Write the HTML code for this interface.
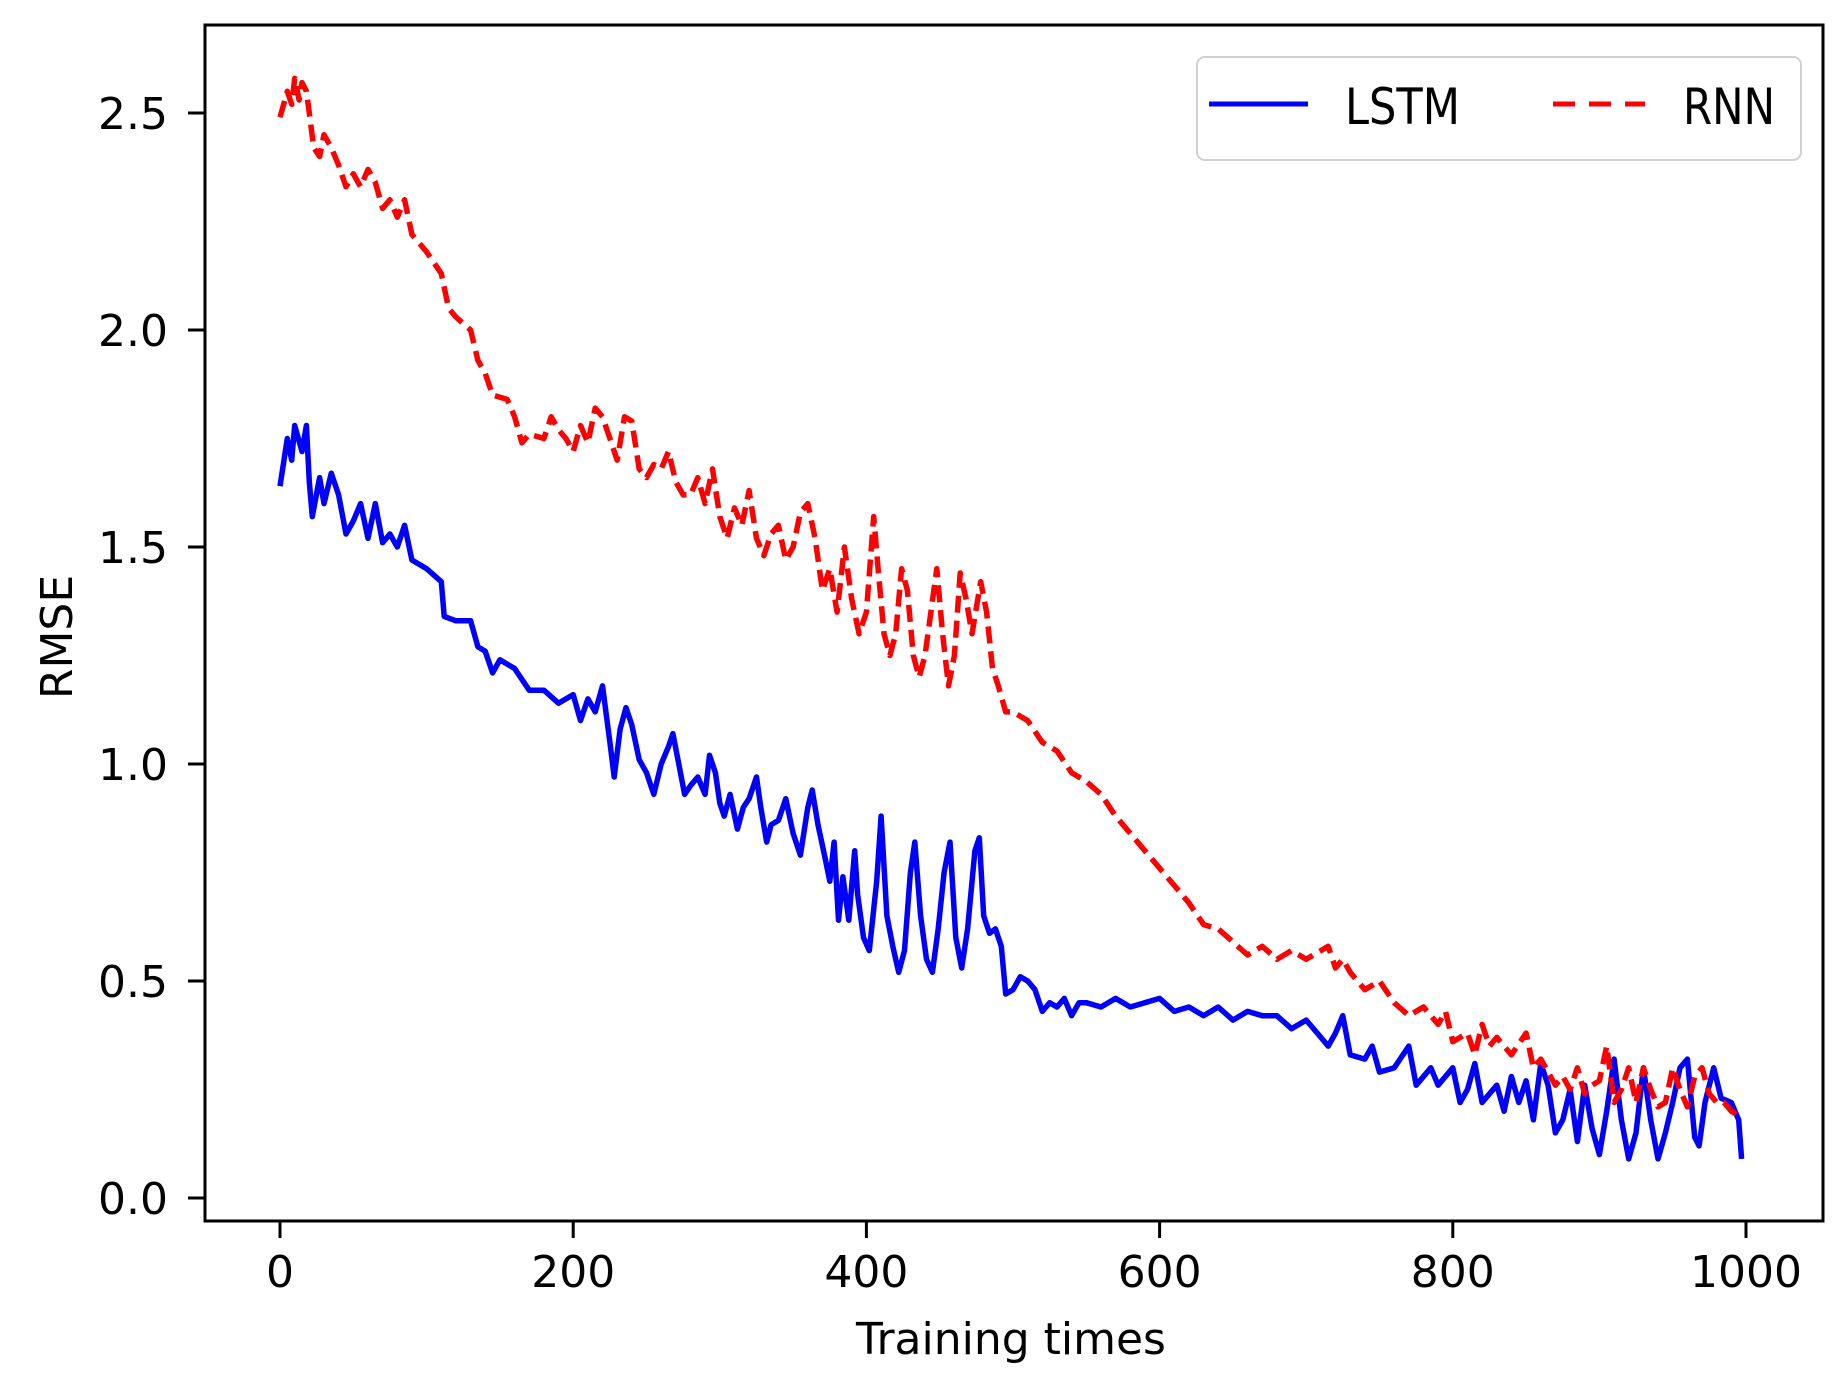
<!DOCTYPE html>
<html><head><meta charset="utf-8"><style>
body{margin:0;background:#fff}
svg{display:block;font-family:"DejaVu Sans","Liberation Sans",sans-serif}
</style></head><body>
<svg id="chart" width="1840" height="1392" viewBox="0 0 1840 1392" xmlns="http://www.w3.org/2000/svg">
<g id="plot"></g>
</svg>
<script>
const lstmX=[0,5,8,10,15,18,20,22,27,30,35,40,45,50,55,60,65,70,75,80,85,90,100,110,112,120,130,135,140,145,150,160,170,180,190,200,205,210,215,220,225,228,232,236,240,245,250,255,260,265,268,272,276,280,285,290,293,297,300,303,307,312,316,320,325,328,332,335,340,345,350,355,360,363,367,372,375,378,381,384,388,392,394,398,402,407,410,414,418,422,426,430,433,437,441,445,449,453,457,461,465,469,474,477,480,484,488,492,495,500,505,510,515,520,525,530,535,540,545,550,560,570,580,590,600,610,620,630,640,650,660,670,680,690,700,710,715,720,725,730,740,745,750,760,770,775,785,790,800,805,810,815,820,830,835,840,845,850,855,860,865,870,875,880,885,890,895,900,905,910,915,920,925,930,935,940,945,950,955,960,965,968,972,978,983,990,995,997];
const lstmY=[1.64,1.75,1.70,1.78,1.72,1.78,1.65,1.57,1.66,1.60,1.67,1.62,1.53,1.56,1.60,1.52,1.60,1.51,1.53,1.50,1.55,1.47,1.45,1.42,1.34,1.33,1.33,1.27,1.26,1.21,1.24,1.22,1.17,1.17,1.14,1.16,1.10,1.15,1.12,1.18,1.05,0.97,1.08,1.13,1.09,1.01,0.98,0.93,1.00,1.04,1.07,1.00,0.93,0.95,0.97,0.93,1.02,0.98,0.91,0.88,0.93,0.85,0.90,0.92,0.97,0.90,0.82,0.86,0.87,0.92,0.84,0.79,0.90,0.94,0.86,0.78,0.73,0.82,0.64,0.74,0.64,0.80,0.70,0.60,0.57,0.73,0.88,0.65,0.58,0.52,0.57,0.75,0.82,0.65,0.55,0.52,0.62,0.75,0.82,0.60,0.53,0.62,0.80,0.83,0.65,0.61,0.62,0.58,0.47,0.48,0.51,0.50,0.48,0.43,0.45,0.44,0.46,0.42,0.45,0.45,0.44,0.46,0.44,0.45,0.46,0.43,0.44,0.42,0.44,0.41,0.43,0.42,0.42,0.39,0.41,0.37,0.35,0.38,0.42,0.33,0.32,0.35,0.29,0.30,0.35,0.26,0.30,0.26,0.30,0.22,0.25,0.31,0.22,0.26,0.20,0.28,0.22,0.27,0.18,0.31,0.26,0.15,0.18,0.25,0.13,0.26,0.16,0.10,0.20,0.32,0.18,0.09,0.15,0.30,0.18,0.09,0.15,0.22,0.30,0.32,0.14,0.12,0.22,0.30,0.23,0.22,0.18,0.09];
const rnnX=[0,5,8,10,13,15,18,20,23,27,30,35,40,45,50,55,60,65,70,75,80,85,90,95,100,110,115,120,130,135,140,145,155,160,165,170,180,185,190,195,200,205,210,215,220,225,230,235,240,245,250,255,260,265,270,275,280,285,290,295,300,305,310,315,320,325,330,335,340,345,350,355,360,365,370,375,380,385,390,395,400,405,408,412,416,420,424,428,432,436,440,444,448,452,456,460,464,468,472,478,482,486,490,495,500,510,520,530,540,550,560,570,580,590,600,610,620,630,640,650,660,670,680,690,700,710,715,720,725,730,740,750,760,770,780,790,795,800,810,815,820,825,830,840,850,855,860,870,875,880,885,890,895,900,905,910,915,920,925,930,935,940,945,950,955,960,965,970,975,980,985,990,995];
const rnnY=[2.49,2.55,2.52,2.58,2.53,2.57,2.55,2.50,2.42,2.40,2.45,2.42,2.38,2.33,2.36,2.33,2.37,2.34,2.28,2.30,2.26,2.30,2.22,2.20,2.18,2.13,2.05,2.03,2.00,1.93,1.90,1.85,1.84,1.80,1.74,1.76,1.75,1.80,1.77,1.75,1.72,1.78,1.74,1.82,1.80,1.75,1.70,1.80,1.79,1.68,1.66,1.69,1.68,1.72,1.65,1.62,1.62,1.66,1.60,1.68,1.57,1.52,1.59,1.55,1.63,1.52,1.48,1.53,1.55,1.47,1.50,1.58,1.60,1.52,1.40,1.45,1.35,1.50,1.38,1.30,1.35,1.57,1.45,1.30,1.25,1.30,1.45,1.40,1.25,1.20,1.25,1.35,1.45,1.30,1.18,1.25,1.44,1.38,1.30,1.42,1.35,1.22,1.18,1.12,1.12,1.10,1.05,1.03,0.98,0.96,0.93,0.88,0.84,0.80,0.76,0.72,0.68,0.63,0.62,0.59,0.56,0.58,0.55,0.57,0.55,0.57,0.58,0.53,0.55,0.52,0.48,0.50,0.45,0.42,0.44,0.40,0.43,0.36,0.38,0.33,0.40,0.35,0.37,0.33,0.38,0.30,0.32,0.26,0.28,0.25,0.30,0.24,0.26,0.27,0.35,0.22,0.25,0.30,0.22,0.30,0.25,0.21,0.22,0.30,0.25,0.21,0.28,0.30,0.24,0.22,0.22,0.20,0.19];
const xTicks=[0,200,400,600,800,1000];
const yTicks=[0,0.5,1.0,1.5,2.0,2.5];
const yTickLabels=["0.0","0.5","1.0","1.5","2.0","2.5"];

const NS="http://www.w3.org/2000/svg";
const L=205,R=1823,T=25,B=1221;
const sx=v=>280+(v/1000)*(1746-280);
const sy=v=>1198-(v/2.5)*(1198-113);
const g=document.getElementById('plot');
function mk(tag,attrs,parent){const e=document.createElementNS(NS,tag);for(const k in attrs)e.setAttribute(k,attrs[k]);(parent||g).appendChild(e);return e;}

function path(xs,ys){return xs.map((x,i)=>(i?'L':'M')+sx(x).toFixed(1)+','+sy(ys[i]).toFixed(1)).join(' ');}
const lp=mk('path',{d:path(lstmX,lstmY),fill:'none',stroke:'#0000ff','stroke-width':5.5,'stroke-linejoin':'round'});


const rp=mk('path',{d:path(rnnX,rnnY),fill:'none',stroke:'#ff0000','stroke-width':5.5,'stroke-dasharray':'17,8','stroke-linejoin':'round'});



const frame=mk('rect',{x:L,y:T,width:R-L,height:B-T,fill:'none',stroke:'#000','stroke-width':3});



xTicks.forEach(v=>{
  const t=mk('line',{x1:sx(v),x2:sx(v),y1:B,y2:B+17,stroke:'#000','stroke-width':3});
  
  
  const s=mk('text',{x:sx(v),y:1287,'font-size':44,'text-anchor':'middle',fill:'#000'});
  s.textContent=v;
  
  
});
yTicks.forEach((v,i)=>{
  const t=mk('line',{x1:L-17,x2:L,y1:sy(v),y2:sy(v),stroke:'#000','stroke-width':3});
  
  
  const s=mk('text',{x:168,y:sy(v)+16,'font-size':44,'text-anchor':'end',fill:'#000'});
  s.textContent=yTickLabels[i];
  
  
});
const xt=mk('text',{x:1011,y:1354,'font-size':44,'text-anchor':'middle',fill:'#000'});
xt.textContent='Training times';


const yt=mk('text',{x:0,y:0,'font-size':44,'text-anchor':'middle',fill:'#000',transform:'translate(72,637) rotate(-90)'});
yt.textContent='RMSE';



const lg=mk('g',{});


mk('rect',{x:1197,y:57,width:604,height:103,rx:8,fill:'#fff',stroke:'#d0d0d0','stroke-width':2},lg);
mk('line',{x1:1209,x2:1308,y1:104,y2:104,stroke:'#0000ff','stroke-width':5},lg);
const t1=mk('text',{x:1345,y:124,'font-size':50,fill:'#000',textLength:115,lengthAdjust:'spacingAndGlyphs'},lg);
t1.textContent='LSTM';


mk('line',{x1:1553,x2:1645,y1:104,y2:104,stroke:'#ff0000','stroke-width':5,'stroke-dasharray':'22,14'},lg);
const t2=mk('text',{x:1683,y:124,'font-size':50,fill:'#000',textLength:92,lengthAdjust:'spacingAndGlyphs'},lg);
t2.textContent='RNN';


</script>
</body></html>
